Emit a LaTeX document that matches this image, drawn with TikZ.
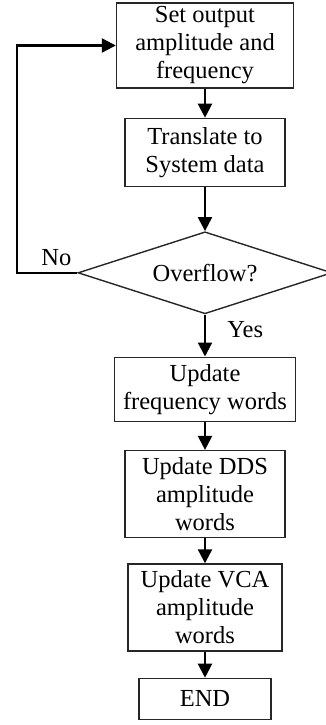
\documentclass[tikz,border=0pt]{standalone}
\usepackage{fontspec}
\setmainfont{Liberation Serif}
\usetikzlibrary{arrows.meta,positioning,shapes.geometric}

\begin{document}
\begin{tikzpicture}[node distance=29pt,>={Triangle[width=14pt,length=14pt]}, every node/.style={font=\fontsize{24.5}{28}\selectfont}]
\tikzstyle{box}=[draw=black!85,line width=1.4pt,align=center,inner sep=2pt]
\tikzstyle{decision}=[draw=black!85,line width=1.4pt,diamond,aspect=3.1,inner sep=0pt,minimum width=254pt,minimum height=82pt]
\tikzstyle{flow}=[->,line width=2.2pt]
\useasboundingbox (0,0) rectangle (326pt,-725pt);
\node[box,minimum width=177pt,minimum height=85pt] (set) at (205pt,-45.5pt) {Set output\\amplitude and\\frequency};
\node[box,minimum width=160pt,minimum height=68pt,below=of set] (trans) {Translate to\\System data};
\node[decision,below=44pt of trans] (ovf) {Overflow?};
\node[box,minimum width=181pt,minimum height=64pt,below=42pt of ovf] (freq) {Update\\frequency words};
\node[box,minimum width=160pt,minimum height=87pt,below=28pt of freq] (dds) {Update DDS\\amplitude\\words};
\node[box,minimum width=154pt,minimum height=87pt,below=25pt of dds] (vca) {Update VCA\\amplitude\\words};
\node[box,minimum width=132pt,minimum height=41pt,below=26pt of vca] (stop) {END};
\coordinate[left=60pt of ovf.west] (loop);
\draw[flow] (set) -- (trans);
\draw[flow] (trans) -- (ovf);
\draw[flow] (ovf) -- node[pos=0.35,right=18pt]{Yes} (freq);
\draw[flow] (freq) -- (dds);
\draw[flow] (dds) -- (vca);
\draw[flow] (vca) -- (stop);
\draw[flow] (ovf.west) -- node[pos=0.35,above=3pt]{No} (loop) |- (set.west);
\end{tikzpicture}
\end{document}
